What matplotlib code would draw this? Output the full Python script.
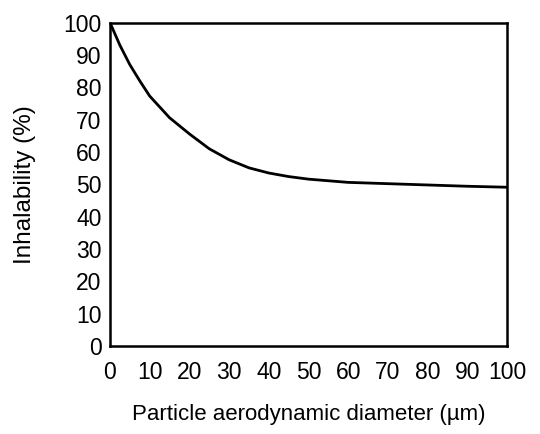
import matplotlib.pyplot as plt

plt.rcParams['font.family'] = ['Liberation Sans', 'DejaVu Sans']

# Curve
diameter = [0, 2.5, 5, 7.5, 10, 15, 20, 25, 30, 35, 40, 45, 50, 60, 70, 80, 90, 100]
inhalability = [100, 93.0, 87.0, 82.0, 77.3, 70.6, 65.6, 61.0, 57.6, 55.1, 53.5,
                52.4, 51.6, 50.6, 50.2, 49.8, 49.4, 49.1]

xticks = list(range(0, 101, 10))
yticks = list(range(0, 101, 10))

fig = plt.figure(figsize=(5.4, 4.34), dpi=100)
ax = fig.add_axes([0.2037, 0.2028, 0.735, 0.745])

ax.plot(diameter, inhalability, color='black', linewidth=2)

ax.set_xlim(0, 100)
ax.set_ylim(0, 100)
ax.set_xticks(xticks)
ax.set_yticks(yticks)
ax.tick_params(length=0, labelsize=16.5)
ax.tick_params(axis='x', pad=11)
ax.tick_params(axis='y', pad=6)
for s in ax.spines.values():
    s.set_linewidth(1.8)

ax.set_xlabel('Particle aerodynamic diameter (µm)', fontsize=16, labelpad=14)
ax.set_ylabel('Inhalability (%)', fontsize=17.5, labelpad=20)

fig.savefig('out.png', dpi=100)
